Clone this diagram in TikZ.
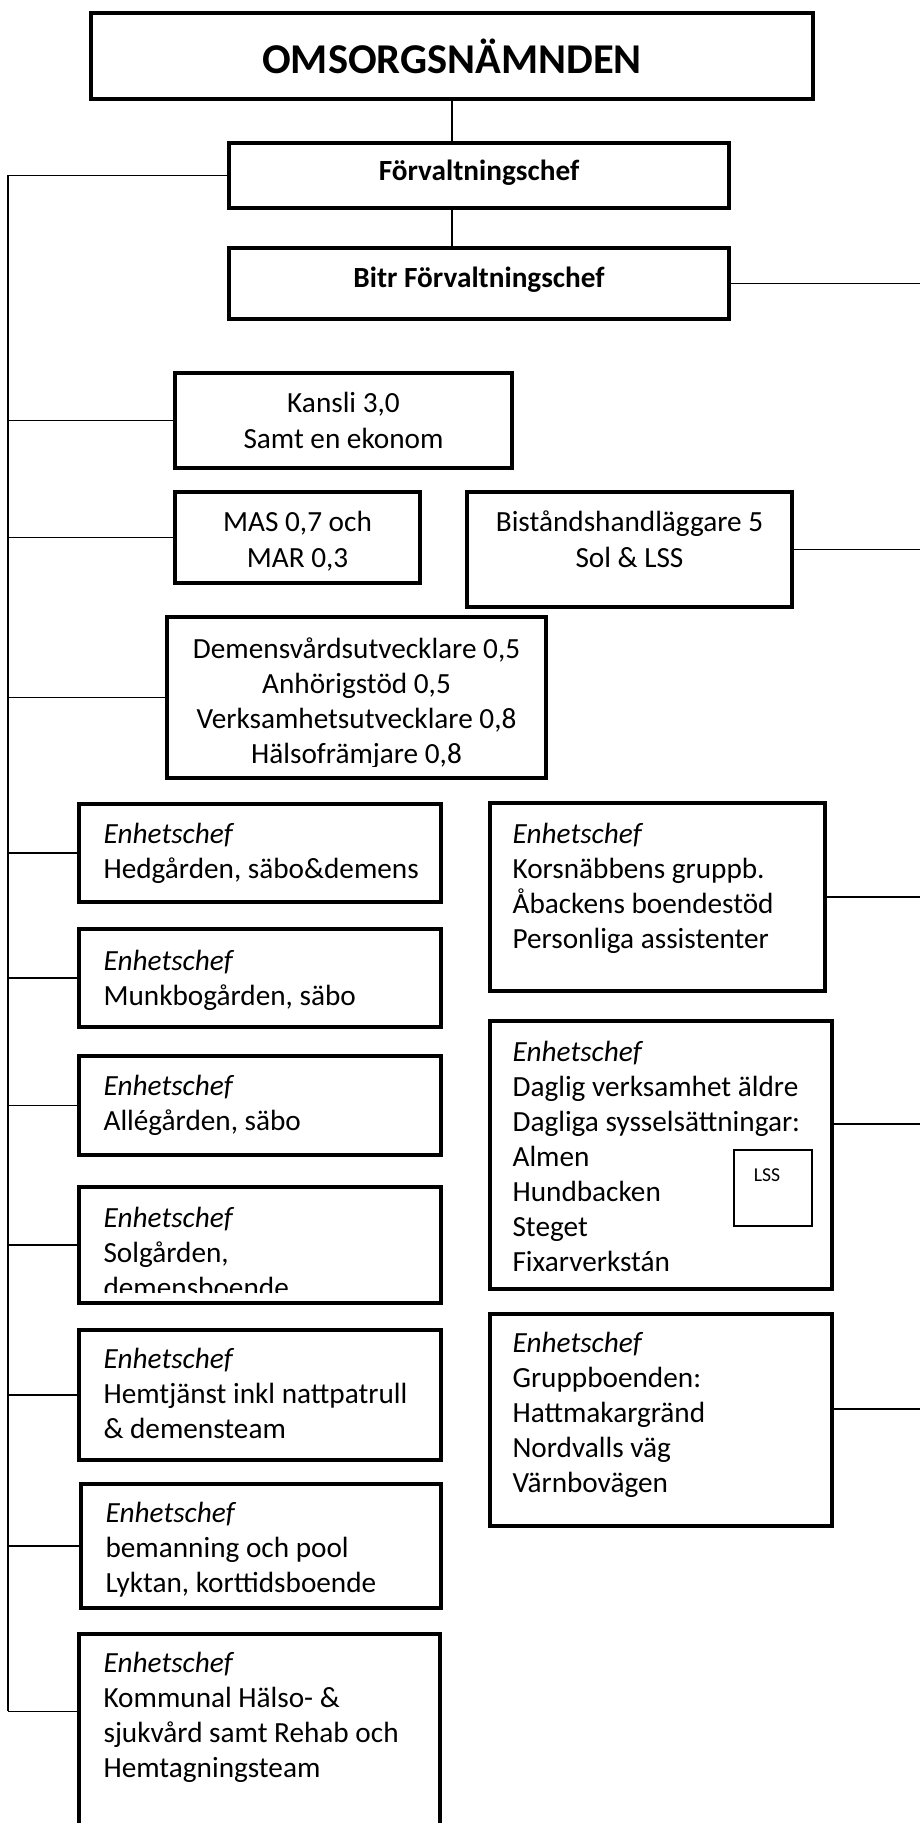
\documentclass[tikz,border=0pt]{standalone}
\usepackage{fontspec}
\setmainfont{Carlito}
\usetikzlibrary{positioning,fit}

\newcommand{\bodyfont}{\fontsize{10.4}{12.5}\selectfont}
\newcommand{\leftlines}[1]{\begin{tabular}[t]{@{}l@{}}#1\end{tabular}}
\newcommand{\midlines}[1]{\begin{tabular}[t]{@{}c@{}}#1\end{tabular}}

\tikzset{
  orgbox/.style={draw, line width=1.4pt, inner sep=0pt},
  lssbox/.style={draw, line width=0.4pt, inner sep=0pt},
  boxtext/.style={anchor=base west, inner sep=0pt, font=\bodyfont},
  midtext/.style={anchor=base, inner sep=0pt, font=\bodyfont},
  conn/.style={line width=0.55pt},
}

\begin{document}
\begin{tikzpicture}[x=0.0125cm,y=-0.0125cm]
  \useasboundingbox (0,0) rectangle (920,1823);

  % ledning
  \node[orgbox,fit={(91,13) (813,99)}] (oms) {};
  \node[inner sep=0pt,font=\fontsize{15.1}{18}\selectfont\bfseries] (omstxt) at (oms.center) {OMSORGSNÄMNDEN};
  \node[orgbox,fit={(229,143) (729,208)}] (forv) {};
  \node[inner sep=0pt,font=\bodyfont\bfseries] (forvtxt) at ([yshift=0.03cm]forv.center) {Förvaltningschef};
  \node[orgbox,fit={(229,248) (729,319)}] (bitr) {};
  \node[inner sep=0pt,font=\bodyfont\bfseries] (bitrtxt) at ([yshift=0.05cm]bitr.center) {Bitr Förvaltningschef};

  % stab
  \node[orgbox,fit={(175,373) (512,468)}] (kansli) {};
  \node[midtext] (kanslitxt) at (343.5,413) {\midlines{Kansli 3,0\\Samt en ekonom}};
  \node[orgbox,fit={(175,492) (420,583)}] (mas) {};
  \node[midtext] (mastxt) at (297.5,532) {\midlines{MAS 0,7 och\\MAR 0,3}};
  \node[orgbox,fit={(467,492) (792,607)}] (bist) {};
  \node[midtext] (bisttxt) at (629.5,532) {\midlines{Biståndshandläggare 5\\Sol \& LSS}};
  \node[orgbox,fit={(167,617) (546,778)}] (demens) {};
  \begin{scope}
    \clip (167,617) rectangle (546,766);
    \node[midtext] (demenstxt) at (356.5,658) {\midlines{Demensvårdsutvecklare 0,5\\Anhörigstöd 0,5\\Verksamhetsutvecklare 0,8\\Hälsofrämjare 0,8}};
  \end{scope}

  % enheter, vänster
  \node[orgbox,fit={(79,804) (441,902)}] (hed) {};
  \node[boxtext] (hedtxt) at (103,843) {\leftlines{\textit{Enhetschef}\\Hedgården, säbo\&demens}};
  \node[orgbox,fit={(79,929) (441,1027)}] (munk) {};
  \node[boxtext] (munktxt) at (103,970) {\leftlines{\textit{Enhetschef}\\Munkbogården, säbo}};
  \node[orgbox,fit={(79,1056) (441,1155)}] (alle) {};
  \node[boxtext] (alletxt) at (103,1095) {\leftlines{\textit{Enhetschef}\\Allégården, säbo}};
  \node[orgbox,fit={(79,1187) (441,1303)}] (solg) {};
  \begin{scope}
    \clip (79,1187) rectangle (441,1292);
    \node[boxtext] (solgtxt) at (103,1227) {\leftlines{\textit{Enhetschef}\\Solgården,\\demensboende}};
  \end{scope}
  \node[orgbox,fit={(79,1330) (441,1460)}] (hemt) {};
  \node[boxtext] (hemttxt) at (103,1368) {\leftlines{\textit{Enhetschef}\\Hemtjänst inkl nattpatrull\\\& demensteam}};
  \node[orgbox,fit={(81,1484) (441,1608)}] (bem) {};
  \node[boxtext] (bemtxt) at (105,1522) {\leftlines{\textit{Enhetschef}\\bemanning och pool\\Lyktan, korttidsboende}};
  \node[orgbox,fit={(79,1634) (440,1900)}] (komm) {};
  \node[boxtext] (kommtxt) at (103,1672) {\leftlines{\textit{Enhetschef}\\Kommunal Hälso- \&\\sjukvård samt Rehab och\\Hemtagningsteam}};

  % enheter, höger
  \node[orgbox,fit={(490,803) (825,991)}] (kors) {};
  \node[boxtext] (korstxt) at (512,843) {\leftlines{\textit{Enhetschef}\\Korsnäbbens gruppb.\\Åbackens boendestöd\\Personliga assistenter}};
  \node[orgbox,fit={(490,1021) (832,1289)}] (dagl) {};
  \node[boxtext] (dagltxt) at (512,1061) {\leftlines{\textit{Enhetschef}\\Daglig verksamhet äldre\\Dagliga sysselsättningar:\\Almen\\Hundbacken\\Steget\\Fixarverkstán}};
  \node[lssbox,fit={(734,1150) (812,1226)}] (lss) {};
  \node[anchor=base,inner sep=0pt,font=\fontsize{7}{8}\selectfont] (lsstxt) at (767,1181) {LSS};
  \node[orgbox,fit={(490,1314) (832,1526)}] (grupp) {};
  \node[boxtext] (grupptxt) at (512,1352) {\leftlines{\textit{Enhetschef}\\Gruppboenden:\\Hattmakargränd\\Nordvalls väg\\Värnbovägen}};

  % linjer
  \coordinate (spinex) at (8,0);
  \coordinate (redge) at (920,0);
  \coordinate (kommstub) at ([yshift=-0.99cm]komm.north west);
  \coordinate (spinebot) at (kommstub -| spinex);
  \draw[conn] (oms.south) -- (oms.south |- forv.north);
  \draw[conn] (oms.south |- forv.south) -- (oms.south |- bitr.north);
  \draw[conn] (forv.west) -| (spinebot);
  \foreach \b in {kansli,mas,demens,hed,munk,alle,solg,hemt,bem}
    \draw[conn] (\b.west) -- (\b.west -| spinex);
  \draw[conn] (kommstub) -- (spinebot);
  \foreach \b in {bitr,bist,kors}
    \draw[conn] (\b.east) -- (\b.east -| redge);
  \draw[conn] ([yshift=-1.31cm]dagl.north east) -- ++(88,0);
  \draw[conn] ([yshift=-1.21cm]grupp.north east) -- ++(88,0);
\end{tikzpicture}
\end{document}
